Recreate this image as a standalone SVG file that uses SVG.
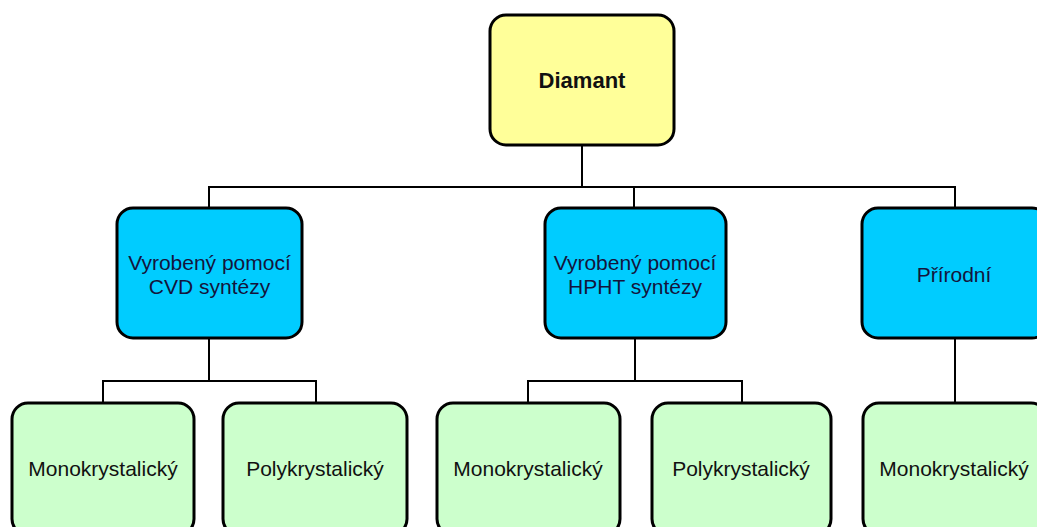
<svg xmlns="http://www.w3.org/2000/svg" width="1037" height="527" viewBox="0 0 1037 527">
<style>
.box{stroke:#000;stroke-width:3}
.top{fill:#FFFF99}
.mid{fill:#00CCFF}
.bot{fill:#CCFFCC}
.t{font-family:"Liberation Sans",Arial,sans-serif;font-size:21px;text-anchor:middle;fill:#111}
.tb{font-weight:bold;font-size:22px}
.tm{fill:#14143c}
.c{fill:none;stroke:#000;stroke-width:2}
</style>
<rect width="1037" height="527" fill="#fff"/>
<g id="connectors">
<path class="c" d="M582 145V187M209 208V187H955V208M634 187V208"/>
<path class="c" d="M209 338V381M103 403V381H316V403"/>
<path class="c" d="M635 338V381M528 403V381H742V403"/>
<path class="c" d="M955 338V403"/>
</g>
<g id="diamant"><rect class="box top" x="490" y="15" width="184" height="130" rx="16"/><text class="t tb" x="582" y="88">Diamant</text></g>
<g id="cvd"><rect class="box mid" x="117" y="208" width="185" height="130" rx="16"/><text class="t tm" x="209.5" y="270">Vyrobený pomocí</text><text class="t tm" x="209.5" y="294">CVD syntézy</text></g>
<g id="hpht"><rect class="box mid" x="545" y="208" width="181" height="130" rx="16"/><text class="t tm" x="635" y="270">Vyrobený pomocí</text><text class="t tm" x="635" y="294">HPHT syntézy</text></g>
<g id="prirodni"><rect class="box mid" x="862" y="208" width="186" height="130" rx="16"/><text class="t tm" x="954" y="282">Přírodní</text></g>
<g id="cvd-mono"><rect class="box bot" x="12" y="403" width="182" height="132" rx="16"/><text class="t" x="103" y="476">Monokrystalický</text></g>
<g id="cvd-poly"><rect class="box bot" x="223" y="403" width="184" height="132" rx="16"/><text class="t" x="315" y="476">Polykrystalický</text></g>
<g id="hpht-mono"><rect class="box bot" x="437" y="403" width="183" height="132" rx="16"/><text class="t" x="528" y="476">Monokrystalický</text></g>
<g id="hpht-poly"><rect class="box bot" x="652" y="403" width="179" height="132" rx="16"/><text class="t" x="741" y="476">Polykrystalický</text></g>
<g id="prirodni-mono"><rect class="box bot" x="863" y="403" width="184" height="132" rx="16"/><text class="t" x="954" y="476">Monokrystalický</text></g>
</svg>
